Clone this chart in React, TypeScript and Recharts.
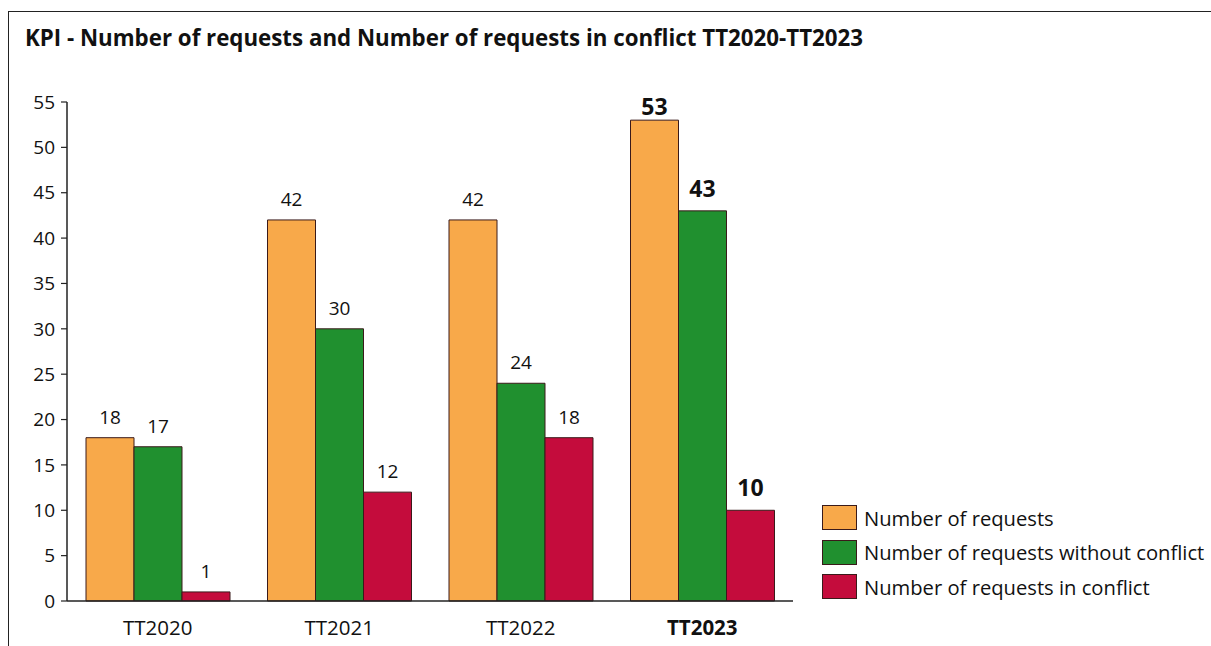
import React from "react";
import { BarChart, Bar, XAxis, YAxis, LabelList } from "recharts";

const categories = ["TT2020", "TT2021", "TT2022", "TT2023"];
const requests = [18, 42, 42, 53];
const withoutConflict = [17, 30, 24, 43];
const inConflict = [1, 12, 18, 10];
const yTicks = [0, 5, 10, 15, 20, 25, 30, 35, 40, 45, 50, 55];
const highlight = "TT2023";

const seriesNames = [
  "Number of requests",
  "Number of requests without conflict",
  "Number of requests in conflict",
];
const seriesKeys = ["requests", "withoutConflict", "inConflict"];
const colors = ["#F8A94A", "#20902F", "#C40C3C"];

const data = categories.map((c, i) => ({
  name: c,
  requests: requests[i],
  withoutConflict: withoutConflict[i],
  inConflict: inConflict[i],
}));

const FONT = "'Open Sans', Lato, sans-serif";
const PLOT_TOP = 102;

const makeLabel = (props: any) => {
  const { x, y, width, value, index } = props;
  const bold = categories[index] === highlight;
  const ty = bold ? Math.max(Number(y) - 14, PLOT_TOP + 13) : Number(y) - 14;
  return (
    <text
      x={Number(x) + Number(width) / 2}
      y={ty}
      textAnchor="middle"
      fontFamily={FONT}
      fontSize={bold ? 23 : 19}
      fontWeight={bold ? 700 : 400}
      fill="#111"
    >
      {value}
    </text>
  );
};

const XTick = (props: any) => {
  const { x, y, payload } = props;
  const bold = payload.value === highlight;
  return (
    <text
      x={x}
      y={y + 26}
      textAnchor="middle"
      fontFamily={FONT}
      fontSize={20.5}
      fontWeight={bold ? 700 : 400}
      fill="#111"
    >
      {payload.value}
    </text>
  );
};

export default function App() {
  return (
    <div
      style={{
        position: "fixed",
        left: 0,
        top: 0,
        width: 1211,
        height: 646,
        overflow: "hidden",
        fontFamily: FONT,
        background: "#fff",
      }}
    >
      <div
        style={{
          position: "absolute",
          left: 8,
          top: 11,
          width: 1203,
          height: 635,
          borderLeft: "1px solid #222",
          borderTop: "1px solid #222",
          boxSizing: "border-box",
        }}
      />
      <div
        style={{
          position: "absolute",
          left: 25,
          top: 23,
          fontSize: 22.3,
          fontWeight: 700,
          color: "#111",
          whiteSpace: "nowrap",
          lineHeight: "30px",
        }}
      >
        KPI - Number of requests and Number of requests in conflict TT2020-TT2023
      </div>
      <div style={{ position: "absolute", left: 0, top: 0 }}>
        <BarChart
          width={1190}
          height={640}
          data={data}
          margin={{ top: PLOT_TOP, right: 397, left: 17, bottom: 9 }}
          barCategoryGap={19}
          barGap={0}
        >
          <XAxis
            dataKey="name"
            tick={<XTick />}
            tickLine={false}
            axisLine={{ stroke: "#222", strokeWidth: 1.5 }}
            height={30}
            interval={0}
          />
          <YAxis
            domain={[0, 55]}
            ticks={yTicks}
            interval={0}
            width={50}
            tickLine={{ stroke: "#222", strokeWidth: 1.2 }}
            tickSize={6}
            axisLine={{ stroke: "#222", strokeWidth: 1.5 }}
            tick={{ fontFamily: FONT, fontSize: 19, fill: "#111" }}
            tickMargin={6}
          />
          {seriesKeys.map((k, i) => (
            <Bar
              key={k}
              dataKey={k}
              name={seriesNames[i]}
              fill={colors[i]}
              stroke="#3a1a1a"
              strokeWidth={1}
              isAnimationActive={false}
            >
              <LabelList dataKey={k} content={makeLabel} />
            </Bar>
          ))}
        </BarChart>
      </div>
      <div style={{ position: "absolute", left: 822, top: 501 }}>
        {seriesNames.map((n, i) => (
          <div
            key={n}
            style={{
              display: "flex",
              alignItems: "center",
              height: i === 1 ? 36 : 33,
            }}
          >
            <div
              style={{
                width: 33,
                height: 23,
                background: colors[i],
                border: "1px solid #3a1a1a",
                marginRight: 7,
                flexShrink: 0,
              }}
            />
            <span style={{ fontSize: 20.2, color: "#111", whiteSpace: "nowrap" }}>{n}</span>
          </div>
        ))}
      </div>
    </div>
  );
}
